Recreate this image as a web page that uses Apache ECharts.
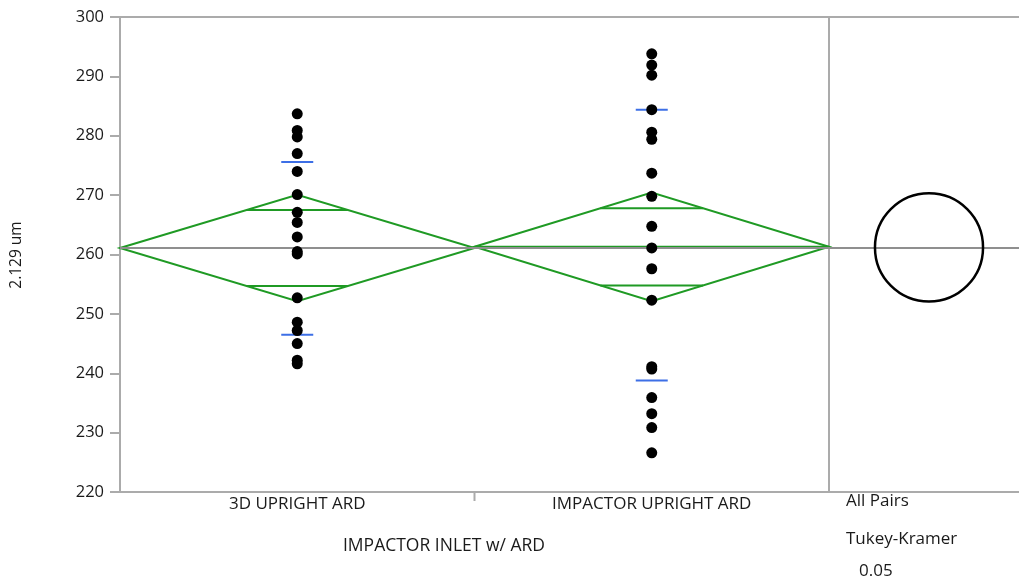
<!DOCTYPE html>
<html>
<head>
<meta charset="utf-8">
<script src="https://cdn.jsdelivr.net/npm/echarts@6/dist/echarts.min.js"></script>
<style>
html,body{margin:0;padding:0;background:#fff;}
#main{width:1019px;height:580px;}
</style>
</head>
<body>
<div id="main"></div>
<script>
// ---- data ----
var categories = ['3D UPRIGHT ARD', 'IMPACTOR UPRIGHT ARD'];
var group1Values = [283.7, 280.9, 279.8, 277.0, 274.0, 270.1, 267.1, 265.4, 262.95, 260.5, 260.1, 252.7, 248.6, 247.2, 245.0, 242.2, 241.6];
var group2Values = [293.8, 291.9, 290.2, 284.4, 280.6, 279.4, 273.7, 269.8, 264.75, 261.1, 257.6, 252.3, 241.1, 240.7, 235.9, 233.2, 230.85, 226.6];
var groupMeans = [261.1, 261.3];
var ciHalfWidths = [8.95, 9.15];
var overlapHalfWidths = [6.4, 6.5];
var sdUpper = [275.6, 284.4];
var sdLower = [246.5, 238.8];
var grandMean = 261.2;
var circleRadius = 9.1;
var yTicks = [220, 230, 240, 250, 260, 270, 280, 290, 300];
var yTitle = '2.129 um';
var xTitle = 'IMPACTOR INLET w/ ARD';
var sideTexts = ['All Pairs', 'Tukey-Kramer', '0.05'];

// ---- build ----
var FONT = 'Open Sans';
var GRAY = '#ababab';
var GREEN = '#1f9a24';
var BLUE = '#3d6fe6';
var TXT = '#1a1a1a';

var pointData = [];
group1Values.forEach(function (v) { pointData.push([0, v]); });
group2Values.forEach(function (v) { pointData.push([1, v]); });

var sdData = [];
for (var i = 0; i < categories.length; i++) {
  sdData.push([i, sdUpper[i]]);
  sdData.push([i, sdLower[i]]);
}

var diamondData = categories.map(function (c, i) {
  return [i, groupMeans[i], ciHalfWidths[i], overlapHalfWidths[i]];
});

var tickData = [];
for (var k = 1; k < categories.length; k++) tickData.push([k - 0.5, yTicks[0]]);

var chart = echarts.init(document.getElementById('main'), null, {renderer: 'canvas'});

var option = {
  animation: false,
  backgroundColor: '#fff',
  grid: [
    {left: 120, right: 190, top: 17, bottom: 88, show: true, borderColor: GRAY, borderWidth: 2, backgroundColor: 'transparent', outerBoundsMode: 'none', containLabel: false},
    {left: 829, width: 200, top: 17, bottom: 88, show: true, borderColor: GRAY, borderWidth: 2, backgroundColor: 'transparent', outerBoundsMode: 'none', containLabel: false}
  ],
  xAxis: [
    {
      type: 'category', gridIndex: 0, data: categories, boundaryGap: true,
      axisLine: {show: true, lineStyle: {color: GRAY, width: 2}},
      axisTick: {show: false},
      axisLabel: {color: TXT, fontFamily: FONT, fontSize: 17, margin: 4}
    },
    {
      type: 'value', gridIndex: 1, min: 0, max: 1,
      axisLine: {show: false}, axisTick: {show: false}, axisLabel: {show: false}, splitLine: {show: false}
    }
  ],
  yAxis: [
    {
      type: 'value', gridIndex: 0, min: yTicks[0], max: yTicks[yTicks.length - 1], interval: 10,
      axisLine: {show: true, lineStyle: {color: GRAY, width: 2}},
      axisTick: {show: true, length: 10, lineStyle: {color: GRAY, width: 2}},
      axisLabel: {color: TXT, fontFamily: FONT, fontSize: 16.5, margin: 16},
      splitLine: {show: false}
    },
    {
      type: 'value', gridIndex: 1, min: yTicks[0], max: yTicks[yTicks.length - 1], interval: 10,
      axisLine: {show: false}, axisTick: {show: false}, axisLabel: {show: false}, splitLine: {show: false}
    }
  ],
  graphic: [
    {type: 'text', x: 17, y: 255, rotation: Math.PI / 2, style: {text: yTitle, font: '15.5px "Open Sans"', fill: TXT, align: 'center', verticalAlign: 'middle'}},
    {type: 'text', x: 444, y: 546, style: {text: xTitle, font: '17.5px "Open Sans"', fill: TXT, align: 'center', verticalAlign: 'middle'}},
    {type: 'text', x: 846, y: 501, style: {text: sideTexts[0], font: '17px "Open Sans"', fill: TXT, align: 'left', verticalAlign: 'middle'}},
    {type: 'text', x: 846, y: 539, style: {text: sideTexts[1], font: '17px "Open Sans"', fill: TXT, align: 'left', verticalAlign: 'middle'}},
    {type: 'text', x: 859, y: 571, style: {text: sideTexts[2], font: '17px "Open Sans"', fill: TXT, align: 'left', verticalAlign: 'middle'}}
  ],
  series: [
    {
      type: 'line', xAxisIndex: 0, yAxisIndex: 0, data: [], silent: true, z: 1,
      markLine: {symbol: 'none', silent: true, label: {show: false}, lineStyle: {color: '#8f8f8f', width: 2, type: 'solid'}, data: [{yAxis: grandMean}]}
    },
    {
      type: 'line', xAxisIndex: 1, yAxisIndex: 1, data: [], silent: true, z: 1,
      markLine: {symbol: 'none', silent: true, label: {show: false}, lineStyle: {color: '#8f8f8f', width: 2, type: 'solid'}, data: [{yAxis: grandMean}]}
    },
    {
      type: 'custom', xAxisIndex: 0, yAxisIndex: 0, z: 2, data: tickData, clip: false,
      renderItem: function (params, api) {
        var idx = api.value(0);
        var c0 = api.coord([0, api.value(1)]);
        var c1 = api.coord([1, api.value(1)]);
        var x = (c0[0] + c1[0]) / 2 + (idx - 0.5) * (c1[0] - c0[0]);
        return {type: 'line', shape: {x1: x, y1: c0[1], x2: x, y2: c0[1] + 9}, style: {stroke: GRAY, lineWidth: 2}};
      }
    },
    {
      type: 'custom', xAxisIndex: 0, yAxisIndex: 0, z: 3, data: diamondData,
      renderItem: function (params, api) {
        var idx = api.value(0), m = api.value(1), ci = api.value(2), ov = api.value(3);
        var c = api.coord([idx, m]);
        var hw = api.size([1, 0])[0] / 2;
        var yt = api.coord([idx, m + ci])[1];
        var yb = api.coord([idx, m - ci])[1];
        var yo1 = api.coord([idx, m + ov])[1];
        var yo2 = api.coord([idx, m - ov])[1];
        var ow = hw * (1 - ov / ci);
        var st = {stroke: GREEN, lineWidth: 2, fill: null};
        return {type: 'group', children: [
          {type: 'polygon', shape: {points: [[c[0] - hw, c[1]], [c[0], yt], [c[0] + hw, c[1]], [c[0], yb]]}, style: st},
          {type: 'line', shape: {x1: c[0] - hw, y1: c[1], x2: c[0] + hw, y2: c[1]}, style: st},
          {type: 'line', shape: {x1: c[0] - ow, y1: yo1, x2: c[0] + ow, y2: yo1}, style: st},
          {type: 'line', shape: {x1: c[0] - ow, y1: yo2, x2: c[0] + ow, y2: yo2}, style: st}
        ]};
      }
    },
    {
      type: 'scatter', xAxisIndex: 0, yAxisIndex: 0, z: 4, data: sdData,
      symbol: 'rect', symbolSize: [32, 2], itemStyle: {color: BLUE, opacity: 1}, silent: true
    },
    {
      type: 'scatter', xAxisIndex: 0, yAxisIndex: 0, z: 5, data: pointData,
      symbol: 'circle', symbolSize: 11, itemStyle: {color: '#000', opacity: 1}, silent: true
    },
    {
      type: 'custom', xAxisIndex: 1, yAxisIndex: 1, z: 5, data: [[0.5, grandMean, circleRadius]],
      renderItem: function (params, api) {
        var c = api.coord([api.value(0), api.value(1)]);
        var r = api.size([0, api.value(2)])[1];
        return {type: 'circle', shape: {cx: c[0], cy: c[1], r: r}, style: {stroke: '#000', lineWidth: 2.5, fill: null}};
      }
    }
  ]
};
chart.setOption(option);
</script>
</body>
</html>
